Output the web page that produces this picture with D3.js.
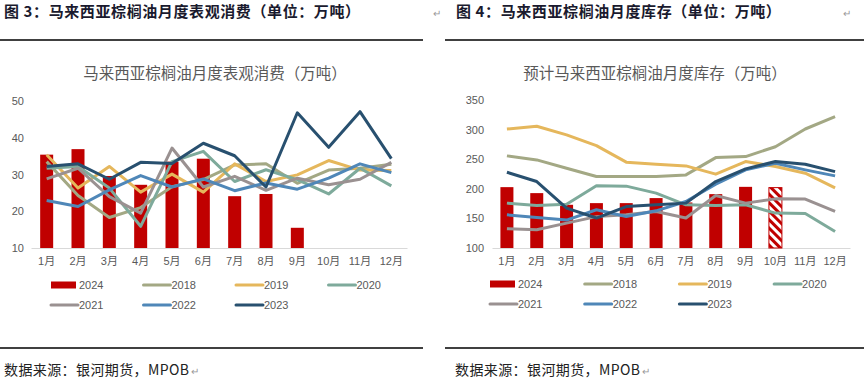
<!DOCTYPE html>
<html>
<head>
<meta charset="utf-8">
<title>马来西亚棕榈油月度表观消费与库存</title>
<style>
  body { margin: 0; background: #fff; }
  svg text { font-family: "Noto Sans CJK SC", "Noto Sans", sans-serif; }
  .fig-title { font-size: 15px; font-weight: 700; fill: #1a1a2e; letter-spacing: 0.6px; }
  .chart-title { font-size: 15.5px; fill: #595959; }
  .tick text { font-size: 11px; fill: #595959; font-family: "Liberation Sans", "Noto Sans CJK SC", sans-serif; }
  .legend text { font-size: 11px; fill: #595959; font-family: "Liberation Sans", sans-serif; }
  .source { font-size: 14px; fill: #222; font-family: "Noto Sans CJK SC", serif; letter-spacing: 0.4px; }
  .mark { font-size: 10px; fill: #999; }
</style>
<script src="https://cdn.jsdelivr.net/npm/d3@7"></script>
</head>
<body>
<svg width="864" height="389"></svg>
<script>

var months = ["1月","2月","3月","4月","5月","6月","7月","8月","9月","10月","11月","12月"];
var years = ["2018","2019","2020","2021","2022","2023"];
var lineColors = ["#a3a884","#e5b75c","#7eaa9b","#9a9191","#4f87b8","#28506f"];
var barColor = "#c00000";

// 图3 表观消费（万吨）
var consume2024 = [35.4, 36.9, 29.6, 27.2, 33.5, 34.3, 24.1, 24.7, 15.5];
var consume2018 = [33.5, 24.3, 18.3, 21.0, 26.7, 28.6, 32.6, 32.9, 27.6, 31.2, 31.7, 32.8];
var consume2019 = [35.4, 26.3, 32.2, 25.2, 30.1, 25.2, 32.9, 28.1, 29.9, 33.8, 31.2, 31.1];
var consume2020 = [31.7, 32.2, 26.3, 15.9, 33.5, 36.3, 28.1, 31.3, 28.6, 24.7, 31.7, 26.9];
var consume2021 = [28.8, 31.7, 24.0, 19.5, 37.2, 26.6, 29.5, 25.7, 29.0, 27.2, 28.7, 33.3];
var consume2022 = [22.9, 21.3, 25.8, 29.7, 26.6, 28.8, 25.6, 27.7, 26.0, 29.0, 32.9, 30.5];
var consume2023 = [32.2, 32.9, 28.7, 33.3, 33.0, 38.5, 35.1, 26.6, 46.8, 37.4, 47.1, 34.3];

// 图4 月度库存（万吨），10月为预计值
var stock2024 = [202.8, 192.7, 173.0, 175.8, 175.8, 184.3, 176.9, 191.0, 203.3, 202.0];
var stockForecastFrom = 9;
var stock2018 = [255.6, 248.8, 234.8, 220.7, 220.7, 220.7, 223.5, 252.7, 254.4, 271.0, 301.0, 321.8];
var stock2019 = [301.0, 305.6, 291.0, 273.0, 245.0, 241.6, 238.7, 224.7, 246.0, 237.6, 226.4, 201.5];
var stock2020 = [175.8, 171.8, 174.0, 205.0, 204.5, 192.7, 173.0, 171.8, 173.0, 159.0, 158.4, 128.0];
var stock2021 = [132.5, 130.8, 142.0, 153.0, 156.0, 161.7, 150.6, 188.7, 175.8, 183.0, 182.6, 161.7];
var stock2022 = [156.0, 151.6, 147.2, 164.6, 153.3, 162.8, 178.5, 207.9, 232.0, 243.3, 232.0, 221.8];
var stock2023 = [228.0, 212.3, 167.4, 150.6, 170.0, 173.0, 175.8, 212.3, 233.7, 246.0, 241.6, 229.0];

var yTicks1 = [10, 20, 30, 40, 50];
var yTicks2 = [100, 150, 200, 250, 300, 350];

var svg = d3.select("svg");

// hatched fill for the forecast bar
var defs = svg.append("defs");
var pat = defs.append("pattern")
    .attr("id", "hatch")
    .attr("patternUnits", "userSpaceOnUse")
    .attr("width", 6).attr("height", 6)
    .attr("patternTransform", "rotate(45)");
pat.append("rect").attr("width", 6).attr("height", 6).attr("fill", "#fff");
pat.append("rect").attr("width", 6).attr("height", 3).attr("fill", barColor);

function drawChart(cfg) {
  var g = svg.append("g");

  g.append("text")
      .attr("class", "chart-title")
      .attr("x", cfg.titleX).attr("y", 79)
      .attr("text-anchor", "middle")
      .text(cfg.title);

  var x = d3.scaleBand().domain(months).range([cfg.left, cfg.right]);
  var y = d3.scaleLinear().domain(cfg.domain).range([cfg.bottom, cfg.top]);

  var yAxis = g.append("g")
      .attr("transform", "translate(" + cfg.yLabelX + ",0)")
      .call(d3.axisLeft(y).tickValues(cfg.ticks).tickSize(0).tickPadding(0));
  yAxis.select(".domain").remove();

  var xAxis = g.append("g")
      .attr("transform", "translate(0," + cfg.bottom + ")")
      .call(d3.axisBottom(x).tickSize(0).tickPadding(9));
  xAxis.select(".domain").attr("stroke", "#d9d9d9").attr("stroke-width", 1.2);

  var bw = 13;
  g.selectAll("rect.bar")
      .data(cfg.bars)
    .enter().append("rect")
      .attr("class", "bar")
      .attr("x", function(d, i) { return x(months[i]) + x.bandwidth() / 2 - bw / 2; })
      .attr("y", function(d) { return y(d); })
      .attr("width", bw)
      .attr("height", function(d) { return cfg.bottom - y(d); })
      .attr("fill", function(d, i) { return (cfg.forecastFrom != null && i >= cfg.forecastFrom) ? "url(#hatch)" : barColor; })
      .attr("stroke", function(d, i) { return (cfg.forecastFrom != null && i >= cfg.forecastFrom) ? barColor : "none"; })
      .attr("stroke-width", 1);

  var line = d3.line()
      .x(function(d, i) { return x(months[i]) + x.bandwidth() / 2; })
      .y(function(d) { return y(d); });

  cfg.lines.forEach(function(s, k) {
    g.append("path")
        .datum(s)
        .attr("fill", "none")
        .attr("stroke", lineColors[k])
        .attr("stroke-width", 3)
        .attr("stroke-linejoin", "round")
        .attr("d", line);
  });

  // legend
  var items = [{name: "2024", color: barColor, bar: true}].concat(years.map(function(yr, k) {
    return {name: yr, color: lineColors[k], bar: false};
  }));
  var lg = g.append("g").attr("class", "legend");
  items.forEach(function(it, i) {
    var col = i % 4, row = Math.floor(i / 4);
    var lx = cfg.legendX + col * cfg.legendStep, ly = cfg.legendY + row * 20;
    if (it.bar) {
      lg.append("rect").attr("x", lx).attr("y", ly - 3.5).attr("width", 25).attr("height", 7).attr("fill", it.color);
    } else {
      lg.append("line").attr("x1", lx).attr("x2", lx + 27).attr("y1", ly).attr("y2", ly)
          .attr("stroke", it.color).attr("stroke-width", 3).attr("stroke-linecap", "round");
    }
    lg.append("text").attr("x", lx + 28).attr("y", ly + 4).text(it.name);
  });
}

// text followed by a paragraph mark
function markedText(cls, x, y, str) {
  var t = svg.append("text").attr("class", cls).attr("x", x).attr("y", y).text(str);
  var w = t.node().getComputedTextLength();
  svg.append("text").attr("class", "mark").attr("x", x + w + 2).attr("y", y).text("↵");
}

// figure headers and rules
svg.append("text").attr("class", "fig-title").attr("x", 4).attr("y", 17)
    .text("图 3：马来西亚棕榈油月度表观消费（单位：万吨）");
svg.append("text").attr("class", "mark").attr("x", 433).attr("y", 17).text("↵");
svg.append("text").attr("class", "fig-title").attr("x", 456).attr("y", 17)
    .text("图 4：马来西亚棕榈油月度库存（单位：万吨）");
svg.append("text").attr("class", "mark").attr("x", 843).attr("y", 17).text("↵");

[[0, 423, 40], [445, 864, 40], [0, 423, 348], [445, 864, 348]].forEach(function(r) {
  svg.append("line").attr("x1", r[0]).attr("x2", r[1]).attr("y1", r[2]).attr("y2", r[2])
      .attr("stroke", "#000").attr("stroke-width", 1.3);
});

drawChart({
  title: "马来西亚棕榈油月度表观消费（万吨）",
  titleX: 215,
  left: 31, right: 407, top: 101, bottom: 248,
  yLabelX: 24,
  domain: [10, 50], ticks: yTicks1,
  bars: consume2024,
  forecastFrom: null,
  lines: [consume2018, consume2019, consume2020, consume2021, consume2022, consume2023],
  legendX: 51, legendY: 285, legendStep: 92.5
});

drawChart({
  title: "预计马来西亚棕榈油月度库存（万吨）",
  titleX: 655,
  left: 492, right: 850, top: 100, bottom: 248,
  yLabelX: 484,
  domain: [100, 350], ticks: yTicks2,
  bars: stock2024,
  forecastFrom: stockForecastFrom,
  lines: [stock2018, stock2019, stock2020, stock2021, stock2022, stock2023],
  legendX: 490, legendY: 284, legendStep: 94.7
});

markedText("source", 4, 375, "数据来源：银河期货，MPOB");
markedText("source", 455, 375, "数据来源：银河期货，MPOB");

</script>
</body>
</html>
